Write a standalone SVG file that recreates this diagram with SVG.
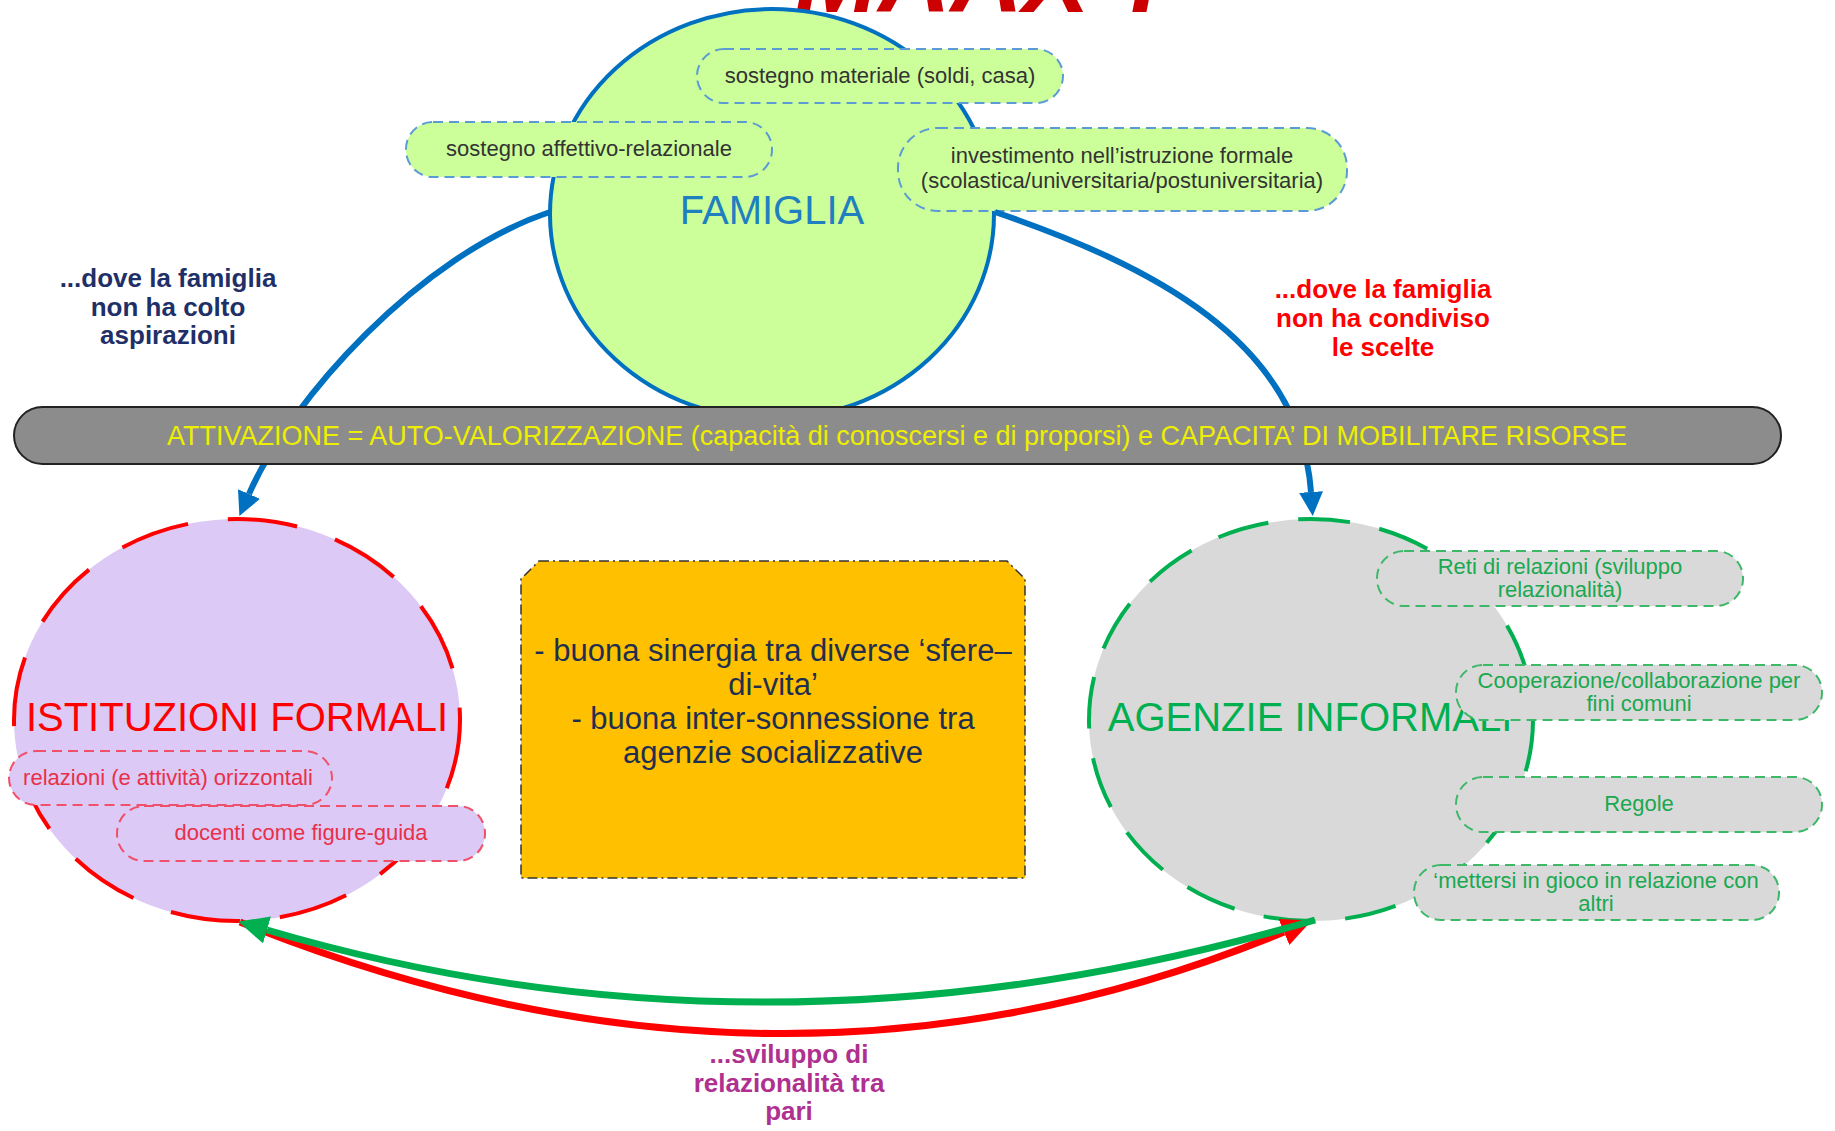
<svg xmlns="http://www.w3.org/2000/svg" width="1835" height="1131" viewBox="0 0 1835 1131">
<style>
  text { font-family: "Liberation Sans", Arial, sans-serif; }
  .box-b { fill: #ccff99; stroke: #5b9bd5; stroke-width: 2; stroke-dasharray: 10 6; }
  .box-r { fill: #dcc9f5; stroke: #f0506a; stroke-width: 2; stroke-dasharray: 10 6; }
  .box-g { fill: #d9d9d9; stroke: #3cb868; stroke-width: 2; stroke-dasharray: 10 6; }
  .t-b { font-size: 22px; fill: #333333; text-anchor: middle; }
  .t-r { font-size: 22px; fill: #e8304a; text-anchor: middle; }
  .t-g { font-size: 22px; fill: #1aa850; text-anchor: middle; }
  .lbl { font-size: 26px; font-weight: bold; text-anchor: middle; }
  .big { font-size: 40px; text-anchor: middle; }
</style>
<defs>
  <marker id="ah-blue" viewBox="0 -12 24 24" refX="0" refY="0" markerWidth="24" markerHeight="24" markerUnits="userSpaceOnUse" orient="auto">
    <path d="M0,-12 L24,0 L0,12 z" fill="#0070c0"/>
  </marker>
  <marker id="ah-green" viewBox="0 -14 30 28" refX="0" refY="0" markerWidth="30" markerHeight="28" markerUnits="userSpaceOnUse" orient="auto">
    <path d="M0,-14 L30,0 L0,14 z" fill="#00b050"/>
  </marker>
  <marker id="ah-red" viewBox="0 -14 30 28" refX="0" refY="0" markerWidth="30" markerHeight="28" markerUnits="userSpaceOnUse" orient="auto">
    <path d="M0,-14 L30,0 L0,14 z" fill="#ff0000"/>
  </marker>
</defs>
<rect x="0" y="0" width="1835" height="1131" fill="#ffffff"/>

<text x="795" y="12" font-size="100" font-weight="bold" font-style="italic" fill="#cc0000">MAAX ?</text>

<g id="famiglia">
  <ellipse cx="772" cy="214" rx="222" ry="205" fill="#ccff99" stroke="#0070c0" stroke-width="4"/>
  <text class="big" x="772" y="224" fill="#1f7fc0">FAMIGLIA</text>
  <g id="famiglia-materiale">
    <rect class="box-b" x="697" y="49" width="366" height="54" rx="27"/>
    <text class="t-b" x="880" y="83">sostegno materiale (soldi, casa)</text>
  </g>
  <g id="famiglia-affettivo">
    <rect class="box-b" x="406" y="122" width="366" height="55" rx="27"/>
    <text class="t-b" x="589" y="156">sostegno affettivo-relazionale</text>
  </g>
  <g id="famiglia-investimento">
    <rect class="box-b" x="898" y="128" width="449" height="83" rx="40"/>
    <text class="t-b" x="1122" y="163">investimento nell’istruzione formale</text>
    <text class="t-b" x="1122" y="188">(scolastica/universitaria/postuniversitaria)</text>
  </g>
</g>

<g id="istituzioni">
  <ellipse cx="237" cy="720" rx="223" ry="201" fill="#dcc9f5" stroke="#ff0000" stroke-width="4" stroke-dasharray="70 40"/>
  <text class="big" x="237" y="731" fill="#ff0000">ISTITUZIONI FORMALI</text>
  <g id="istituzioni-relazioni">
    <rect class="box-r" x="9" y="751" width="323" height="54" rx="27"/>
    <text class="t-r" x="168" y="785">relazioni (e attività) orizzontali</text>
  </g>
  <g id="istituzioni-docenti">
    <rect class="box-r" x="117" y="806" width="368" height="55" rx="27"/>
    <text class="t-r" x="301" y="840">docenti come figure-guida</text>
  </g>
</g>

<g id="agenzie">
  <ellipse cx="1311" cy="720" rx="222" ry="201" fill="#d9d9d9" stroke="#00b050" stroke-width="4" stroke-dasharray="52 30"/>
  <text class="big" x="1310" y="731" fill="#00b050">AGENZIE INFORMALI</text>
  <g id="agenzie-reti">
    <rect class="box-g" x="1377" y="551" width="366" height="55" rx="27"/>
    <text class="t-g" x="1560" y="574">Reti di relazioni (sviluppo</text>
    <text class="t-g" x="1560" y="597">relazionalità)</text>
  </g>
  <g id="agenzie-cooperazione">
    <rect class="box-g" x="1456" y="665" width="366" height="55" rx="27"/>
    <text class="t-g" x="1639" y="688">Cooperazione/collaborazione per</text>
    <text class="t-g" x="1639" y="711">fini comuni</text>
  </g>
  <g id="agenzie-regole">
    <rect class="box-g" x="1456" y="777" width="366" height="55" rx="27"/>
    <text class="t-g" x="1639" y="811">Regole</text>
  </g>
  <g id="agenzie-mettersi">
    <rect class="box-g" x="1414" y="865" width="365" height="55" rx="27"/>
    <text class="t-g" x="1596" y="888">‘mettersi in gioco in relazione con</text>
    <text class="t-g" x="1596" y="911">altri</text>
  </g>
</g>

<g id="sinergia">
  <path d="M539,561 L1007,561 L1025,579 L1025,878 L521,878 L521,579 Z" fill="#ffc000" stroke="#333333" stroke-width="1.5" stroke-dasharray="10 4 2 4"/>
  <g font-size="31" fill="#1f2f4f" text-anchor="middle">
    <text x="773" y="661">- buona sinergia tra diverse ‘sfere–</text>
    <text x="773" y="695">di-vita’</text>
    <text x="773" y="729">- buona inter-sonnessione tra</text>
    <text x="773" y="763">agenzie socializzative</text>
  </g>
</g>

<g id="label-aspirazioni" fill="#1f3068">
  <text class="lbl" x="168" y="287">...dove la famiglia</text>
  <text class="lbl" x="168" y="316">non ha colto</text>
  <text class="lbl" x="168" y="344">aspirazioni</text>
</g>
<g id="label-scelte" fill="#ff0000">
  <text class="lbl" x="1383" y="298">...dove la famiglia</text>
  <text class="lbl" x="1383" y="327">non ha condiviso</text>
  <text class="lbl" x="1383" y="356">le scelte</text>
</g>
<g id="label-pari" fill="#b0308f">
  <text class="lbl" x="789" y="1063">...sviluppo di</text>
  <text class="lbl" x="789" y="1092">relazionalità tra</text>
  <text class="lbl" x="789" y="1120">pari</text>
</g>

<g id="connectors" fill="none">
  <path d="M550,212 C420,255 290,400 249,494" stroke="#0070c0" stroke-width="6" marker-end="url(#ah-blue)"/>
  <path d="M995,212 C1150,265 1300,340 1311,492" stroke="#0070c0" stroke-width="6" marker-end="url(#ah-blue)"/>
  <path d="M240,922 Q780,1140 1284,932" stroke="#ff0000" stroke-width="7" marker-end="url(#ah-red)"/>
  <path d="M1315,920 Q773,1079 267,930" stroke="#00b050" stroke-width="7" marker-end="url(#ah-green)"/>
</g>

<g id="attivazione">
  <rect x="14" y="407" width="1767" height="57" rx="28.5" fill="#8c8c8c" stroke="#222222" stroke-width="2"/>
  <text x="897" y="445" font-size="27" fill="#eeee00" text-anchor="middle">ATTIVAZIONE = AUTO-VALORIZZAZIONE (capacità di conoscersi e di proporsi) e CAPACITA’ DI MOBILITARE RISORSE</text>
</g>
</svg>
